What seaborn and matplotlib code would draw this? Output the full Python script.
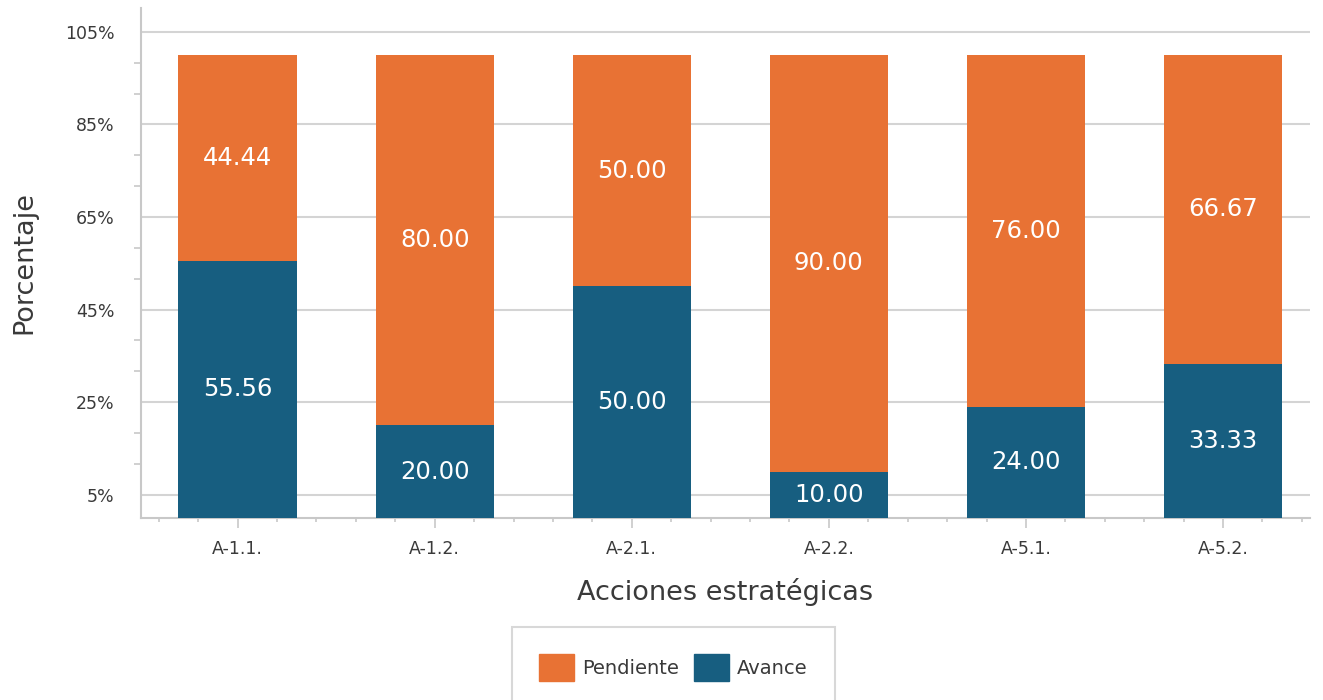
import numpy as np
import pandas as pd
import matplotlib
matplotlib.use("Agg")
import matplotlib.pyplot as plt
import seaborn as sns
from matplotlib.ticker import FixedLocator, MultipleLocator, FuncFormatter
from matplotlib.patches import Patch

# datos del grafico
acciones = ["A-1.1.", "A-1.2.", "A-2.1.", "A-2.2.", "A-5.1.", "A-5.2."]
avance = [55.56, 20.00, 50.00, 10.00, 24.00, 33.33]
pendiente = [44.44, 80.00, 50.00, 90.00, 76.00, 66.67]

color_pend = "#E87234"
color_av = "#175E80"
gris = "#d4d4d4"
texto = "#3a3a3a"

df = pd.DataFrame({"accion": acciones, "avance": avance, "pendiente": pendiente})
df["total"] = df["avance"] + df["pendiente"]

sns.set_style("white")
fig = plt.figure(figsize=(13.23, 7.0), dpi=100)
ax = fig.add_axes([0.1066, 0.26, 0.8834, 0.729])

# barras apiladas: total (pendiente) detras y avance delante
sns.barplot(data=df, x="accion", y="total", color=color_pend, width=0.6,
            saturation=1, linewidth=0, ax=ax, zorder=3)
sns.barplot(data=df, x="accion", y="avance", color=color_av, width=0.6,
            saturation=1, linewidth=0, ax=ax, zorder=3)

# etiquetas de valores
for i, row in df.iterrows():
    ax.text(i, row["avance"] / 2, f"{row['avance']:.2f}", ha="center", va="center",
            color="white", fontsize=17.5, zorder=4)
    ax.text(i, row["avance"] + row["pendiente"] / 2, f"{row['pendiente']:.2f}",
            ha="center", va="center", color="white", fontsize=17.5, zorder=4)

ax.set_xlim(-0.49, 5.44)
ax.set_ylim(0, 110.2)

ax.yaxis.set_major_locator(FixedLocator(np.arange(5, 106, 20)))
ax.yaxis.set_minor_locator(FixedLocator(np.arange(5, 110, 20 / 3)))
ax.yaxis.set_major_formatter(FuncFormatter(lambda v, _: f"{v:.0f}%"))
ax.xaxis.set_minor_locator(MultipleLocator(0.2))

ax.grid(axis="y", which="major", color=gris, linewidth=1.5, zorder=0)
ax.set_axisbelow(True)

for s in ["top", "right"]:
    ax.spines[s].set_visible(False)
for s in ["left", "bottom"]:
    ax.spines[s].set_color("#c8c8c8")
    ax.spines[s].set_linewidth(1.5)

ax.tick_params(axis="y", which="major", length=9, width=1.2, color="#c8c8c8",
               labelsize=12.5, labelcolor=texto, pad=10)
ax.tick_params(axis="y", which="minor", left=True, length=5, width=1.2, color="#c8c8c8")
ax.tick_params(axis="x", which="major", bottom=True, length=7, width=1.2, color="#c8c8c8",
               labelsize=12.5, labelcolor=texto, pad=9)
ax.tick_params(axis="x", which="minor", bottom=True, length=3, width=1.2, color="#c8c8c8")

ax.set_xlabel("Acciones estratégicas", fontsize=19.5, color=texto, labelpad=14)
ax.set_ylabel("Porcentaje", fontsize=19.5, color=texto, labelpad=20)

handles = [Patch(facecolor=color_pend, edgecolor=color_pend, label="Pendiente"),
           Patch(facecolor=color_av, edgecolor=color_av, label="Avance")]
leg = fig.legend(handles=handles, loc="upper center", bbox_to_anchor=(0.509, 0.105),
                 ncol=2, frameon=True, fancybox=False, fontsize=14, handlelength=1.8,
                 handleheight=1.8, borderpad=1.4, columnspacing=0.8, handletextpad=0.4,
                 borderaxespad=0)
leg.get_frame().set_edgecolor("#cfcfcf")
leg.get_frame().set_linewidth(1.5)
for t in leg.get_texts():
    t.set_color(texto)

fig.savefig("out.png", dpi=100)
